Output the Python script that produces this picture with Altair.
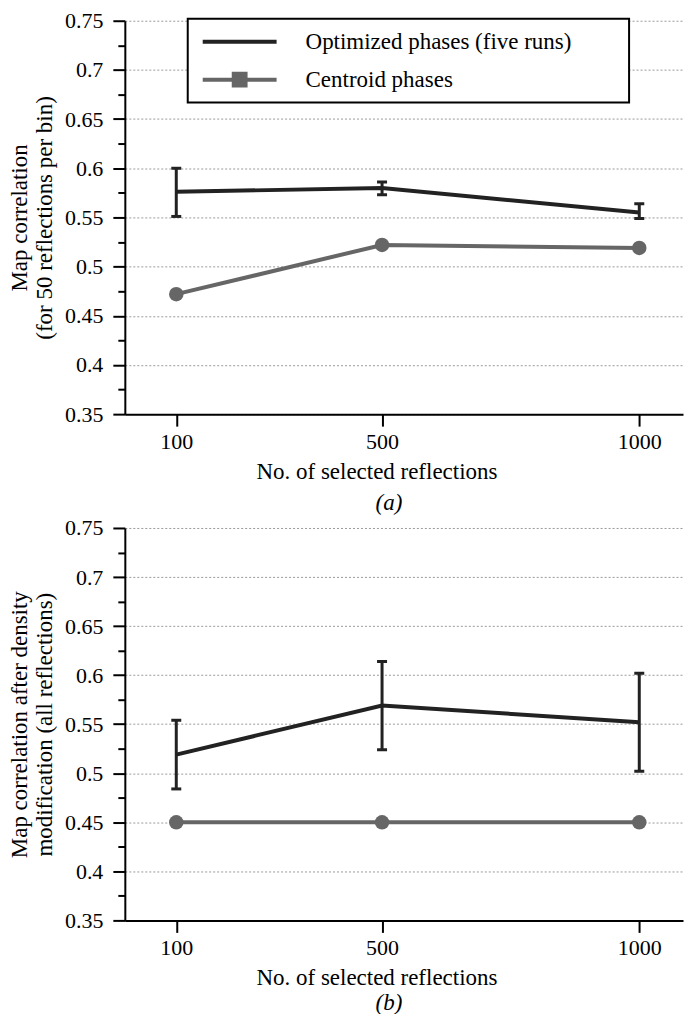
import altair as alt
import pandas as pd

# ---- data ----
n_selected = [100, 500, 1000]
series_names = ["Optimized phases (five runs)", "Centroid phases"]

a_opt = [0.576, 0.580, 0.555]
a_opt_lo = [0.551, 0.573, 0.549]
a_opt_hi = [0.600, 0.586, 0.564]
a_cen = [0.472, 0.522, 0.519]

b_opt = [0.519, 0.569, 0.552]
b_opt_lo = [0.484, 0.524, 0.502]
b_opt_hi = [0.554, 0.614, 0.602]
b_cen = [0.450, 0.450, 0.450]

y_major = [0.35, 0.4, 0.45, 0.5, 0.55, 0.6, 0.65, 0.7, 0.75]
y_minor = [0.375, 0.425, 0.475, 0.525, 0.575, 0.625, 0.675, 0.725]
x_ticks = [100, 500, 1000]

a_ytitle = ["Map correlation", "(for 50 reflections per bin)"]
b_ytitle = ["Map correlation after density", "modification (all reflections)"]
x_title = "No. of selected reflections"

FONT = "Liberation Serif"
FS_TICK = 22
FS = 23
DARK = "#222222"
GREY = "#666666"
LINE_PATH = "M-1,0L1,0"
LINE_SQ_PATH = "M-1,0L1,0M-0.16,-0.16L0.16,-0.16L0.16,0.16L-0.16,0.16Z"
# non-breaking spaces closed by a zero-width char so that trimming keeps them
PAD = "\u00a0" * 8 + "\u200b"


def panel(opt, lo, hi, cen, ytitle, caption, height, legend_y, cap_offset):
    df = pd.DataFrame({"n": n_selected, "opt": opt, "lo": lo, "hi": hi, "cen": cen})
    base = alt.Chart(df)
    xs = alt.Scale(domain=[0, 1085], nice=False, zero=False)
    ys = alt.Scale(domain=[0.35, 0.75], nice=False, zero=False)

    x_axis = alt.Axis(
        values=x_ticks, format="d", grid=False,
        domainColor="black", domainWidth=2,
        tickColor="black", tickWidth=2, tickSize=12,
        labelFont=FONT, labelFontSize=FS_TICK, labelColor="black", labelPadding=5,
        title=x_title, titleFont=FONT, titleFontSize=FS, titleFontWeight="normal",
        titleColor="black", titleX=252, titleY=57, titleBaseline="middle",
        titleAlign="center",
    )
    y_axis = alt.Axis(
        orient="left", values=y_major, format="~g",
        grid=True, gridColor="#9a9a9a", gridDash=[2, 2], gridWidth=1,
        domainColor="black", domainWidth=2,
        tickColor="black", tickWidth=2, tickSize=12,
        labelFont=FONT, labelFontSize=FS_TICK, labelColor="black", labelPadding=10,
        title=ytitle, titleFont=FONT, titleFontSize=FS, titleFontWeight="normal",
        titleColor="black", titleLineHeight=25, titlePadding=8,
    )
    y_minor_axis = alt.Axis(
        orient="left", values=y_minor, labels=False, domain=False, grid=False,
        ticks=True, tickSize=7, tickWidth=2, tickColor="black", title=None,
    )

    # the same x axis definition in every layer so the shared axis merges
    X = alt.X("n:Q", scale=xs, axis=x_axis)

    opt_line = base.mark_line(color=DARK, strokeWidth=4).encode(
        x=X, y=alt.Y("opt:Q", scale=ys, axis=y_axis))
    minor = base.mark_line(strokeOpacity=0).encode(
        x=X, y=alt.Y("opt:Q", scale=ys, axis=y_minor_axis))
    err = base.mark_rule(color=DARK, strokeWidth=3).encode(
        x=X, y=alt.Y("lo:Q", scale=ys, axis=None), y2="hi:Q")
    cap_lo = base.mark_tick(orient="horizontal", size=10, thickness=3,
                            color=DARK, opacity=1).encode(
        x=X, y=alt.Y("lo:Q", scale=ys, axis=None))
    cap_hi = base.mark_tick(orient="horizontal", size=10, thickness=3,
                            color=DARK, opacity=1).encode(
        x=X, y=alt.Y("hi:Q", scale=ys, axis=None))
    cen_line = base.mark_line(color=GREY, strokeWidth=4).encode(
        x=X, y=alt.Y("cen:Q", scale=ys, axis=None))
    cen_pts = base.mark_circle(size=210, color=GREY, opacity=1).encode(
        x=X, y=alt.Y("cen:Q", scale=ys, axis=None))

    legend = alt.Legend(
        title=None, orient="none", legendX=63, legendY=legend_y,
        direction="vertical", symbolSize=5476, symbolStrokeWidth=4,
        clipHeight=24, rowPadding=14, padding=11, symbolOffset=2, labelOffset=27,
        labelFont=FONT, labelFontSize=FS, labelColor="black", labelLimit=1000,
        strokeColor="black", fillColor="white",
        labelExpr="datum.label + '" + PAD + "'",
    )
    leg_df = pd.DataFrame({"series": series_names})
    shape_scale = alt.Scale(domain=series_names, range=[LINE_PATH, LINE_SQ_PATH])
    col_scale = alt.Scale(domain=series_names, range=[DARK, GREY])
    leg = alt.Chart(leg_df).mark_point(filled=True, opacity=1, strokeWidth=4).encode(
        shape=alt.Shape("series:N", scale=shape_scale, legend=legend),
        fill=alt.Fill("series:N", scale=col_scale, legend=legend),
        stroke=alt.Stroke("series:N", scale=col_scale, legend=legend),
    ).transform_filter("false")

    return alt.layer(opt_line, minor, err, cap_lo, cap_hi, cen_line, cen_pts, leg).resolve_axis(
        y="independent"
    ).properties(
        width=559, height=height,
        title=alt.TitleParams(text=caption, orient="bottom", anchor="middle", dx=-15,
                              offset=cap_offset, font=FONT, fontSize=FS,
                              fontStyle="italic", fontWeight="normal", color="black"),
    )


pa = panel(a_opt, a_opt_lo, a_opt_hi, a_cen, a_ytitle, "(a)", 394, -2, 9)
pb = panel(b_opt, b_opt_lo, b_opt_hi, b_cen, b_ytitle, "(b)", 393, 14, 3)

chart = alt.vconcat(pa, pb, spacing=0).properties(
    padding={"left": 0, "top": 0, "right": 0, "bottom": -3}
).configure_view(stroke="transparent").configure_legend(strokeWidth=2)

chart.save("out.html", embed_options={"renderer": "svg", "actions": False})
